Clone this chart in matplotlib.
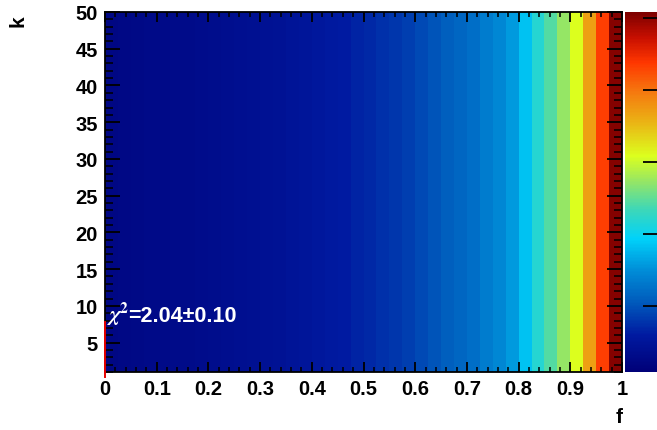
import numpy as np
import matplotlib
matplotlib.use("Agg")
import matplotlib.pyplot as plt
from matplotlib.colors import LinearSegmentedColormap
from matplotlib.ticker import MultipleLocator, FuncFormatter

# ---- data ----
f_edges_lo, f_edges_hi, n_f_bins = 0.0, 1.0, 40
k_lo, k_hi = 1, 50
# mean content of each f column (same for all k rows)
column_values = [0.23, 0.25, 0.26, 0.28, 0.28, 0.30, 0.31, 0.33, 0.35, 0.36,
                 0.38, 0.40, 0.43, 0.45, 0.48, 0.50, 0.53, 0.58, 0.60, 0.66,
                 0.70, 0.76, 0.80, 0.86, 0.93, 1.00, 1.08, 1.15, 1.23, 1.33,
                 1.43, 1.58, 1.83, 2.18, 2.43, 2.73, 3.08, 3.68, 4.33, 5.03]
z_min, z_max = 0.08, 5.08
z_ticks = [1, 2, 3, 4, 5]
x_ticks = [0, 0.1, 0.2, 0.3, 0.4, 0.5, 0.6, 0.7, 0.8, 0.9, 1.0]
y_ticks = [5, 10, 15, 20, 25, 30, 35, 40, 45, 50]
chi2_symbol = r"$\chi^{\mathsf{\mathbf{2}}}$"
chi2_value = "=2.04±0.10"
red_line_k = [0.3, 7.8]

# ---- palette ----
pal_pos = [0.0, 0.10, 0.20, 0.28, 0.37, 0.45, 0.53, 0.60, 0.70, 0.78, 0.86, 0.93, 1.0]
pal_rgb = [(0, 0, 120), (0, 25, 160), (0, 95, 190), (0, 140, 215), (0, 210, 250),
           (60, 215, 185), (150, 230, 100), (220, 255, 30), (235, 175, 20),
           (245, 120, 15), (255, 55, 0), (200, 15, 0), (125, 0, 0)]
cmap = LinearSegmentedColormap.from_list(
    "rootrainbow", [(p, tuple(c / 255 for c in rgb)) for p, rgb in zip(pal_pos, pal_rgb)])

plt.rcParams['font.family'] = ['Liberation Sans', 'DejaVu Sans']
plt.rcParams['font.weight'] = 'bold'
plt.rcParams['mathtext.fontset'] = 'stix'

W, H = 657, 431
fig = plt.figure(figsize=(W / 100, H / 100), dpi=100)
ax = fig.add_axes([105 / W, 1 - 373 / H, (622 - 105) / W, (373 - 13) / H])

x_edges = np.linspace(f_edges_lo, f_edges_hi, n_f_bins + 1)
y_edges = np.arange(k_lo, k_hi + 1)
Z = np.tile(np.array(column_values), (len(y_edges) - 1, 1))
mesh = ax.pcolormesh(x_edges, y_edges, Z, cmap=cmap, vmin=z_min, vmax=z_max,
                     shading='flat', rasterized=True)
ax.set_xlim(f_edges_lo, f_edges_hi)
ax.set_ylim(k_lo, k_hi)

ax.set_xticks(x_ticks)
ax.set_yticks(y_ticks)
ax.xaxis.set_minor_locator(MultipleLocator(0.02))
ax.yaxis.set_minor_locator(MultipleLocator(1))
ax.xaxis.set_major_formatter(FuncFormatter(lambda v, p: ('%g' % v)))
for s in ax.spines.values():
    s.set_linewidth(1.3)
ax.tick_params(axis='x', which='major', direction='in', length=7.5, width=1.3,
               top=True, bottom=True, labelsize=14.5, pad=5)
ax.tick_params(axis='x', which='minor', direction='in', length=3.8, width=1.1,
               top=True, bottom=True)
ax.tick_params(axis='y', which='major', direction='in', length=11, width=1.3,
               left=True, right=True, labelsize=14.5, pad=5)
ax.tick_params(axis='y', which='minor', direction='in', length=5.5, width=1.1,
               left=True, right=True)
for lab in ax.get_xticklabels() + ax.get_yticklabels():
    lab.set_fontweight('bold')

# chi2 annotation
ax.text(0.002, 8.0, chi2_symbol, color='white', fontsize=16,
        ha='left', va='baseline')
ax.text(0.045, 8.0, chi2_value, color='white', fontsize=15.5, fontweight='bold',
        ha='left', va='baseline')
# red vertical line at f = 0
ax.plot([0, 0], red_line_k, color=(0.9, 0, 0), lw=1.4, clip_on=False, zorder=5)

# axis titles
fig.text(18 / W, 1 - 21 / H, "k", rotation=90, fontsize=15, fontweight='bold',
         ha='center', va='center')
fig.text(619 / W, 1 - 418 / H, "f", fontsize=15, fontweight='bold',
         ha='center', va='center')

# palette (colour bar), partly outside the canvas like the reference
cax = fig.add_axes([625 / W, 1 - 373 / H, (660 - 625) / W, (373 - 13) / H])
cb = fig.colorbar(mesh, cax=cax, ticks=z_ticks)
cb.outline.set_visible(False)
cax.tick_params(direction='in', length=12, width=1.3, right=True, left=False,
                labelright=False)

fig.savefig("out.png", dpi=100)
